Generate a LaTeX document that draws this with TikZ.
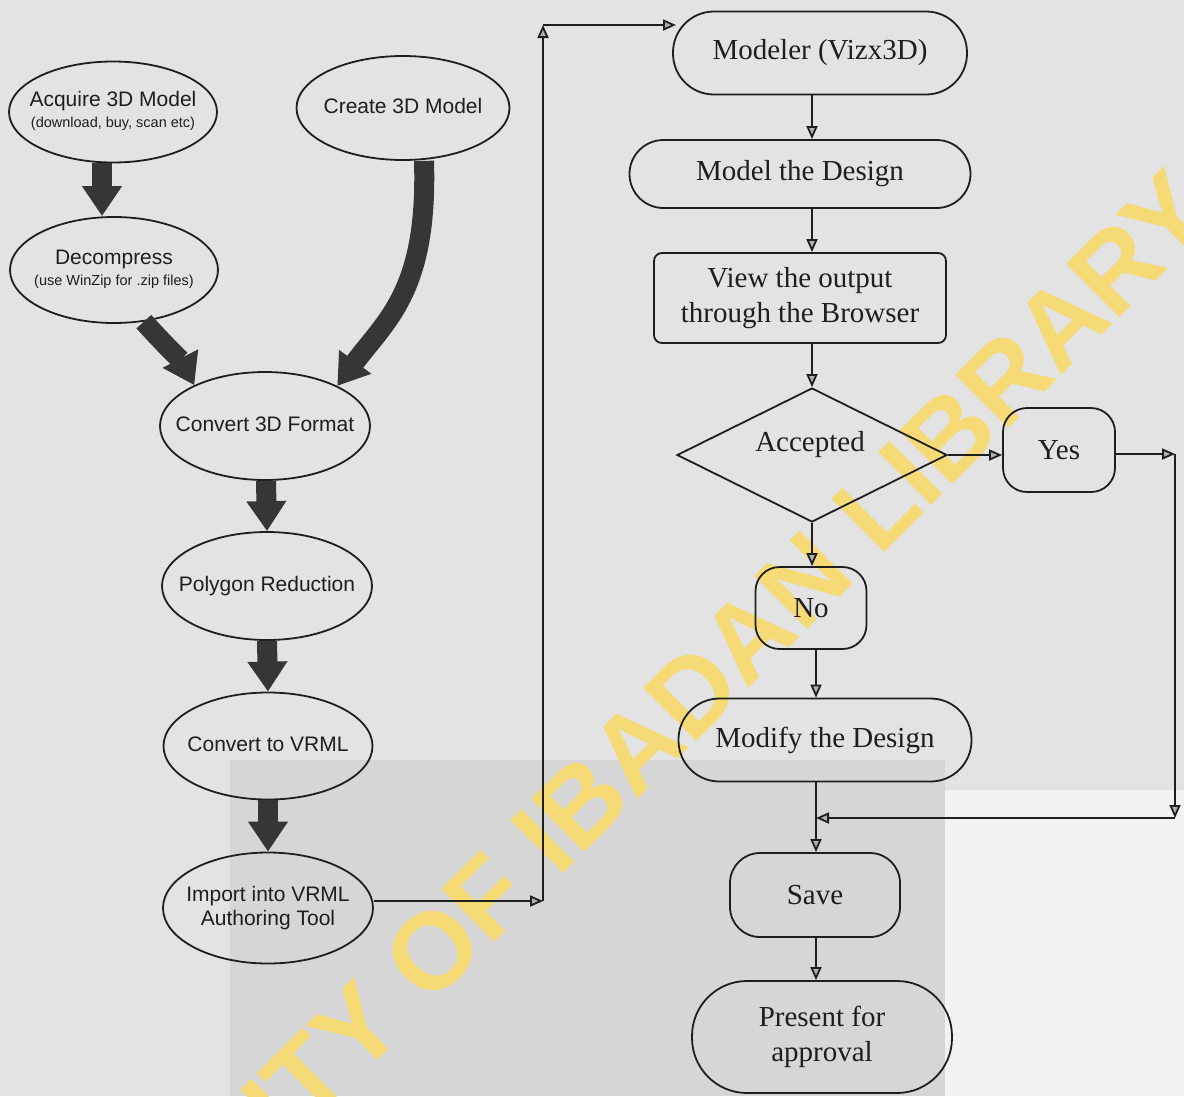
\documentclass[tikz,border=0pt]{standalone}
\usepackage{fontspec}
\setmainfont{Liberation Serif}
\newfontfamily\arialf{Liberation Sans}
\usetikzlibrary{shapes.geometric,arrows.meta}
\definecolor{ink}{HTML}{1E1E1E}
\definecolor{fatgray}{HTML}{363636}
\definecolor{wmyellow}{RGB}{246,218,118}
\definecolor{paper}{HTML}{E3E3E3}
\definecolor{paperlight}{HTML}{F2F2F2}
\definecolor{paperdark}{HTML}{D6D6D6}
\newcommand{\sansL}{\arialf\fontsize{21}{26}\selectfont}
\newcommand{\sansS}{\arialf\fontsize{14.5}{17}\selectfont}
\newcommand{\serifL}{\fontsize{29}{35}\selectfont}
% zero-width text block, so that an ellipse keeps its own given size
\newcommand{\zw}[1]{\makebox[0pt]{\begin{tabular}{@{}c@{}}#1\end{tabular}}}
\begin{document}
\begin{tikzpicture}[x=1pt,y=-1pt,
  ell/.style={draw=ink, line width=1.8pt, ellipse, inner sep=0pt, font=\sansL, text=ink},
  box/.style={draw=ink, line width=1.8pt, rectangle, inner sep=0pt, font=\serifL, text=ink, align=center},
  fatarrow/.style={draw=fatgray, line width=20pt, -{Triangle[length=30pt,width=38pt]}},
  arr/.style={draw=ink, line width=1.8pt, -{Triangle[length=13pt,width=11pt,fill=gray!60]}},
  wmtext/.style={text=wmyellow, font=\arialf\bfseries\fontsize{109}{115}\selectfont, rotate=45, inner sep=0pt}
]
\useasboundingbox (0,0) rectangle (1184,1096);
% paper
\fill[paper] (0,0) rectangle (1184,1096);
\fill[paperdark] (230,760) rectangle (945,1096);
\fill[paperlight] (945,790) rectangle (1184,1096);
% watermark
\begin{scope}
\clip (0,0) rectangle (1184,1096);
\node[wmtext] (wmk) at (556,828) {UNIVERSITY OF IBADAN LIBRARY};
\end{scope}

% ---------- left column ----------
\node[ell, minimum width=208pt, minimum height=101pt] (acq) at (113,112)
  {\zw{Acquire 3D Model\\[-5pt]{\sansS (download, buy, scan etc)}}};
\node[ell, minimum width=213pt, minimum height=104pt] (cre) at (403,108) {\zw{Create 3D Model}};
\node[ell, minimum width=208pt, minimum height=106pt] (dec) at (114,270)
  {\zw{Decompress\\[-5pt]{\sansS (use WinZip for .zip files)}}};
\node[ell, minimum width=210pt, minimum height=108pt] (cnv) at (265,426) {\zw{Convert 3D Format}};
\node[ell, minimum width=210pt, minimum height=108pt] (poly) at (267,586) {\zw{Polygon Reduction}};
\node[ell, minimum width=209pt, minimum height=107pt] (vrml) at (268,746) {\zw{Convert to VRML}};
\node[ell, minimum width=210pt, minimum height=111pt] (imp) at (268,908)
  {\zw{Import into VRML\\[-2pt]Authoring Tool}};

\draw[fatarrow] ([xshift=-11pt]acq.south) -- ([xshift=-12pt]dec.north);
\draw[fatarrow] (dec.-60) .. controls +(19,21) and +(-12,-23) .. (cnv.150);
\draw[fatarrow] ([xshift=21pt]cre.south) .. controls +(4,130) and +(49,-66) .. (cnv.29);
\draw[fatarrow] ([xshift=1pt]cnv.south) -- (poly.north);
\draw[fatarrow] (poly.south) -- (vrml.north);
\draw[fatarrow] (vrml.south) -- (imp.north);

% ---------- right column ----------
\node[box, minimum width=294pt, minimum height=83pt, rounded corners=41pt] (mod) at (820,53) {Modeler (Vizx3D)};
\node[box, minimum width=341pt, minimum height=68pt, rounded corners=34pt] (mdes) at (800,174) {Model the Design};
\node[box, minimum width=292pt, minimum height=90pt, rounded corners=8pt] (view) at (800,298) {View the output\\through the Browser};
\node[draw=ink, line width=1.8pt, diamond, minimum width=270pt, minimum height=134pt, inner sep=0pt] (acc) at (812,455) {};
\node[font=\serifL, text=ink, inner sep=0pt] (acct) at (810,445) {Accepted};
\node[box, minimum width=112pt, minimum height=84pt, rounded corners=24pt] (yes) at (1059,450) {Yes};
\node[box, minimum width=111pt, minimum height=82pt, rounded corners=24pt] (no) at (811,608) {No};
\node[box, minimum width=293pt, minimum height=83pt, rounded corners=41pt] (modi) at (825,740) {Modify the Design};
\node[box, minimum width=170pt, minimum height=84pt, rounded corners=30pt] (save) at (815,895) {Save};
\node[box, minimum width=260pt, minimum height=112pt, rounded corners=55pt] (pres) at (822,1037) {Present for\\approval};

\coordinate (lb) at (543,901);
\coordinate (lt) at (543,25);
\coordinate (mt) at (676,25);
\coordinate (rt) at (1175,454);
\coordinate (rb) at (1175,818);
\coordinate (jn) at (816,818);

\draw[arr] (lb -| imp.east) -- (lb);
\draw[arr] (lb) -- (lt);
\draw[arr] (lt) -- (mt);

\draw[arr] (mod.south -| acc.north) -- (mdes.north -| acc.north);
\draw[arr] (mdes.south -| acc.north) -- (view.north -| acc.north);
\draw[arr] (view.south -| acc.north) -- (acc.north);
\draw[arr] (acc.east) -- (acc.east -| yes.west);
\draw[arr] (rt -| yes.east) -- (rt);
\draw[arr] (rt) -- (rb);
\draw[arr] (rb) -- (jn);
\draw[arr] (acc.south) -- (no.north -| acc.south);
\draw[arr] (no.south -| jn) -- (modi.north -| jn);
\draw[arr] (modi.south -| jn) -- (save.north -| jn);
\draw[arr] (save.south -| jn) -- (pres.north -| jn);
\end{tikzpicture}
\end{document}
